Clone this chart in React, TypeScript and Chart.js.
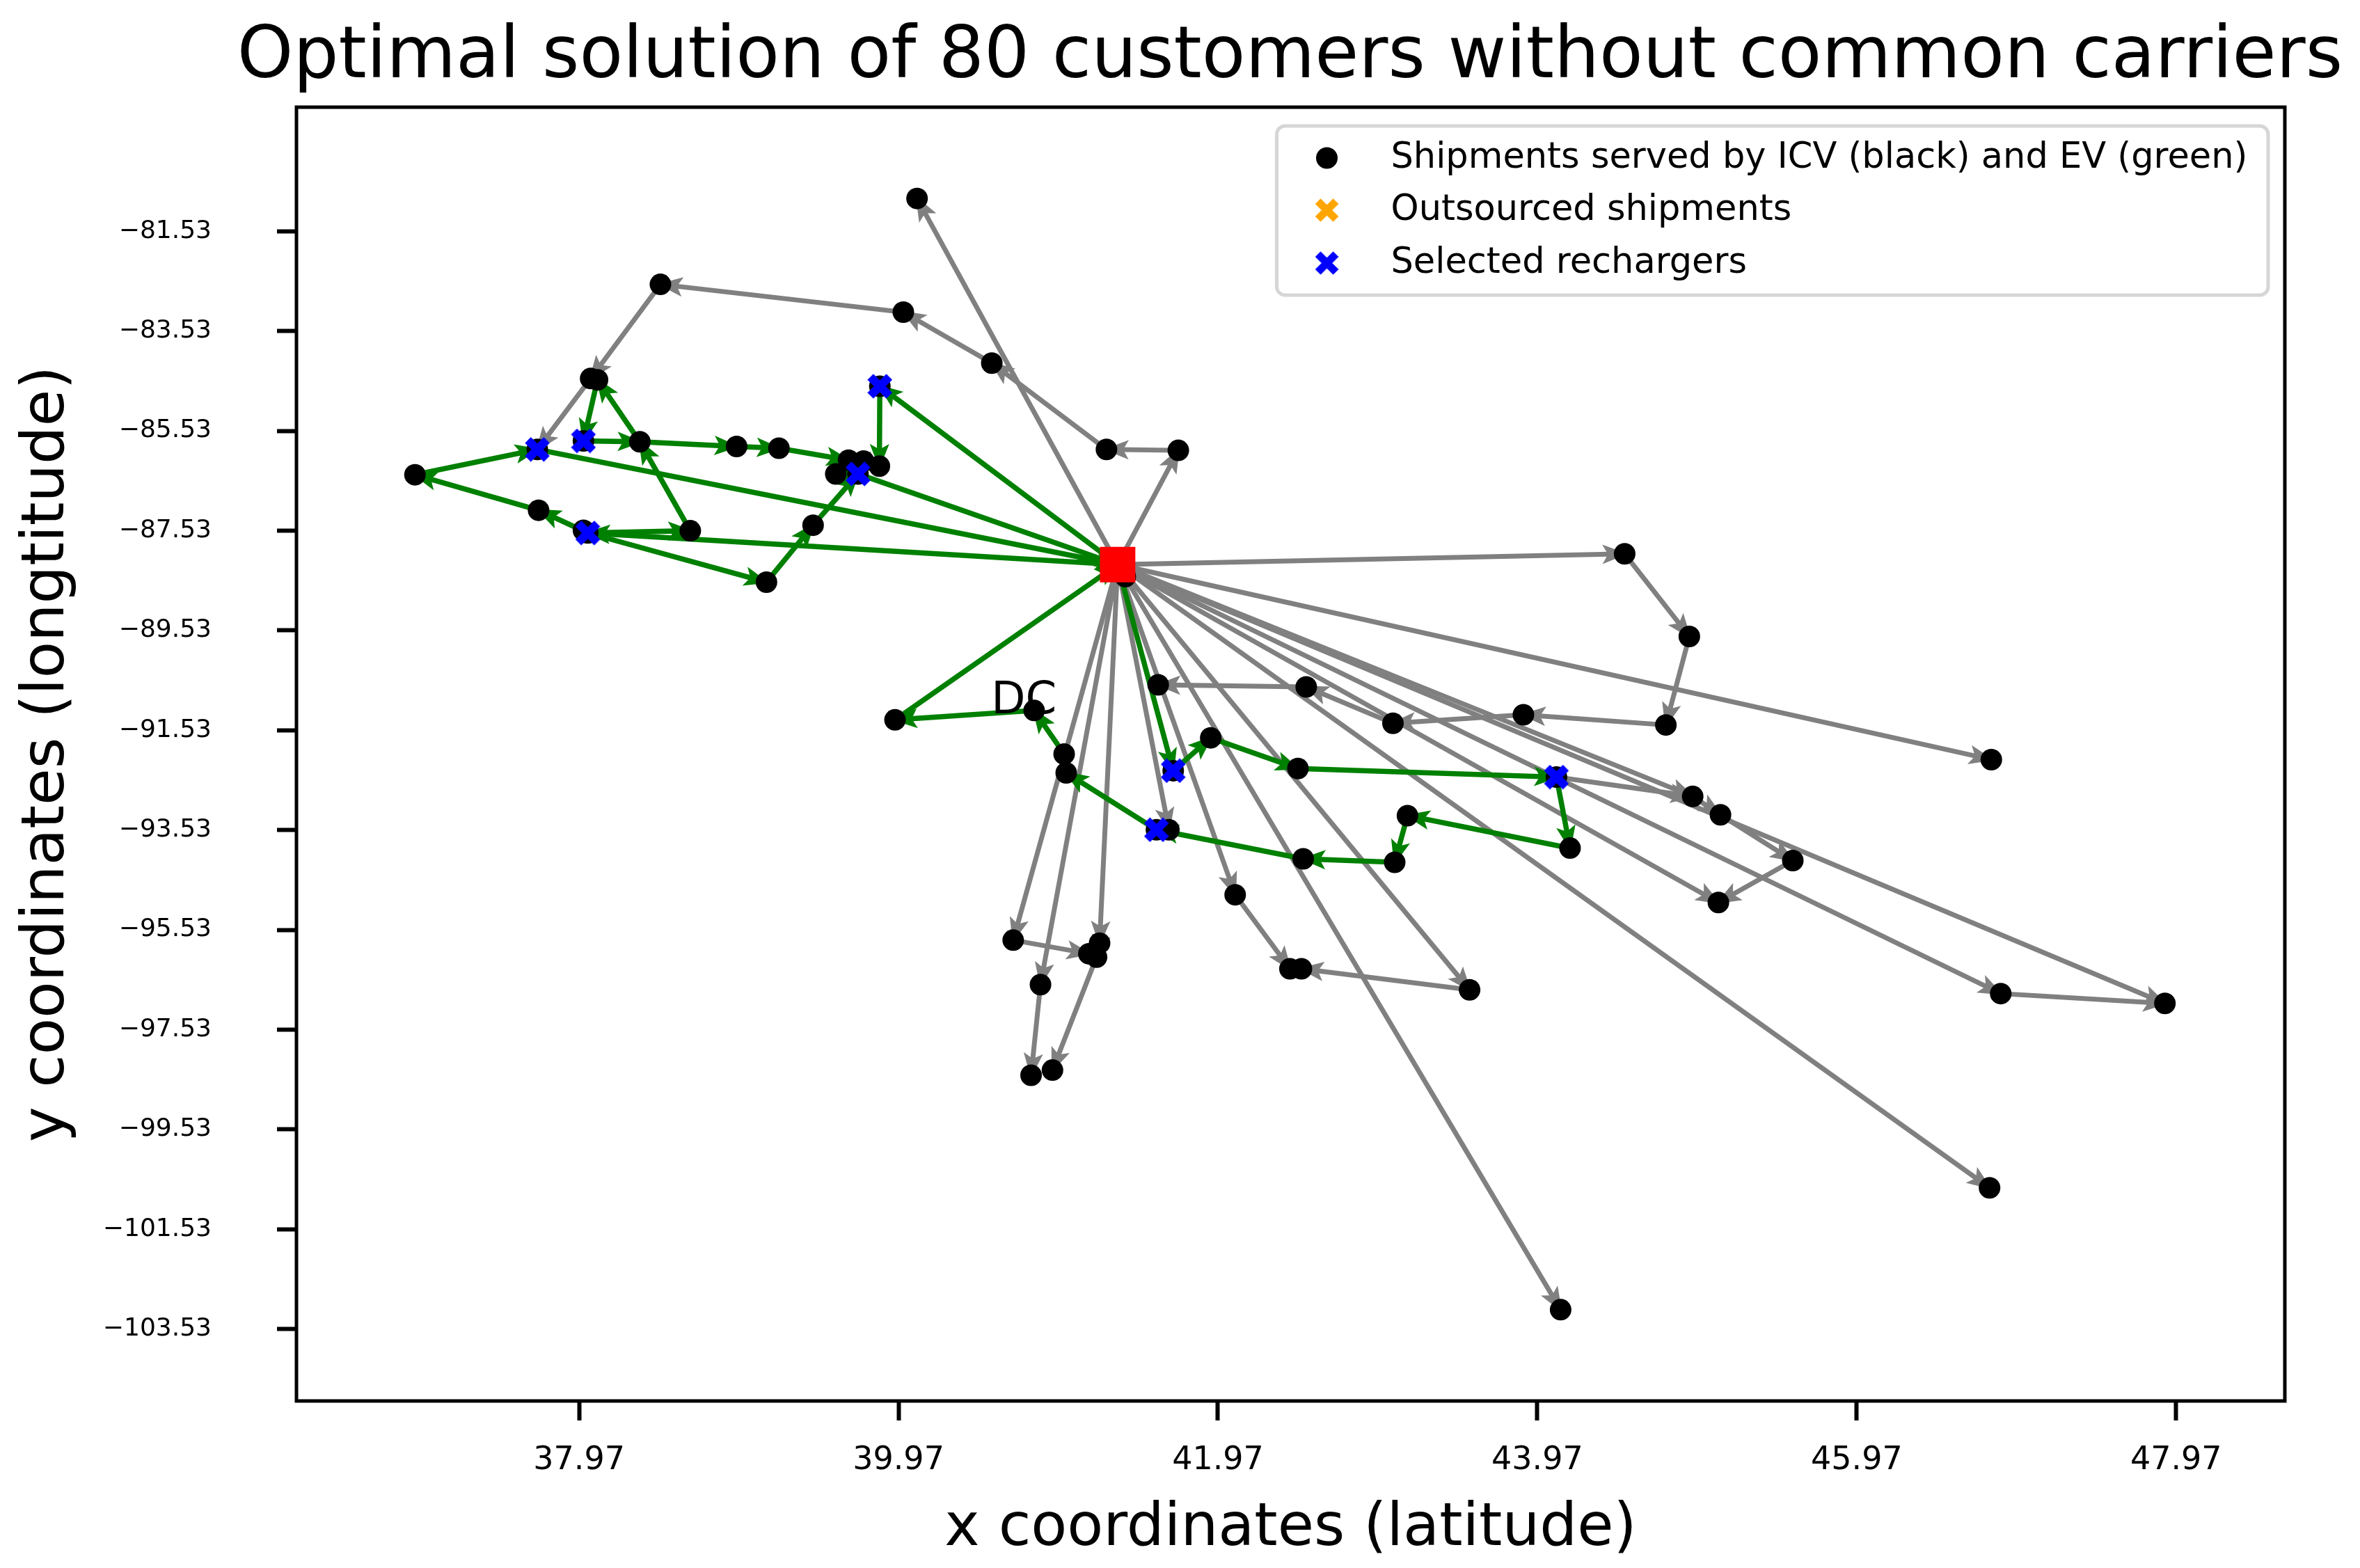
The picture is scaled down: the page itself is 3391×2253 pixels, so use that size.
import React, { useEffect, useRef } from 'react';
import { Chart, registerables } from 'chart.js';

Chart.register(...registerables);

// ---------- text ----------
const TITLE = 'Optimal solution of 80 customers without common carriers';
const X_LABEL = 'x coordinates (latitude)';
const Y_LABEL = 'y coordinates (longtitude)';
const LEGEND_LABELS = [
  'Shipments served by ICV (black) and EV (green)',
  'Outsourced shipments',
  'Selected rechargers',
];
const DC_LABEL = 'DC';
const DC_LABEL_X = [40.55];
const DC_LABEL_Y = [-91.19];

// ---------- axes ----------
const X_MIN = 36.2;
const X_MAX = 48.651;
const Y_MIN = -104.97;
const Y_MAX = -79.043;
const X_TICKS = [37.97, 39.97, 41.97, 43.97, 45.97, 47.97];
const Y_TICKS = [-81.53, -83.53, -85.53, -87.53, -89.53, -91.53, -93.53, -95.53, -97.53, -99.53, -101.53, -103.53];

// ---------- data ----------
const DEPOT_X = [41.342];
const DEPOT_Y = [-88.209];

const CUSTOMER_X = [
  40.086, 38.479, 40.0, 40.554, 41.272, 41.722, 38.042, 38.085, 38.35, 38.956,
  39.221, 39.657, 39.751, 39.85, 39.577, 36.942, 37.716, 37.997, 38.666, 39.435,
  39.143, 41.39, 44.517, 44.922, 44.775, 43.883, 43.066, 42.523, 41.596, 46.813,
  39.948, 40.819, 41.007, 41.02, 41.925, 42.471, 43.157, 44.175, 41.663, 42.504,
  43.077, 42.078, 40.688, 41.229, 41.162, 41.21, 40.859, 40.8, 40.934, 42.421,
  42.493, 43.546, 44.116, 44.943, 45.117, 45.57, 45.104, 46.872, 47.9, 46.802,
];
const CUSTOMER_Y = [
  -80.872, -82.594, -83.151, -84.172, -85.902, -85.92, -84.48, -84.506, -85.749, -85.842,
  -85.877, -86.117, -86.134, -86.237, -86.392, -86.409, -87.12, -87.523, -87.531, -87.42,
  -88.561, -88.449, -87.994, -89.649, -91.423, -91.218, -91.389, -90.661, -90.618, -92.117,
  -91.321, -91.133, -92.006, -92.382, -91.681, -92.297, -93.24, -93.891, -93.523, -94.106,
  -94.175, -94.826, -95.735, -95.795, -96.008, -96.077, -96.626, -98.444, -98.34, -96.308,
  -96.308, -96.73, -103.141, -92.855, -93.223, -94.14, -94.98, -96.806, -97.003, -100.698,
];

const RECHARGER_X = [39.853, 37.708, 37.997, 39.716, 38.024, 41.585, 44.09, 41.69];
const RECHARGER_Y = [-84.635, -85.902, -85.731, -86.392, -87.575, -93.523, -92.468, -92.34];

// routes: 'D' = depot, 'cN' = customer N, 'rN' = recharger N
const ICV_ROUTES: string[][] = [
  ['D', 'c5', 'c4', 'c3', 'c2', 'c1', 'c6', 'r1'],
  ['D', 'c0'],
  ['D', 'c22', 'c23', 'c24', 'c25', 'c26', 'c27', 'c28'],
  ['D', 'c29'],
  ['D', 'c53', 'c54', 'c55', 'c56'],
  ['r6', 'c53'],
  ['D', 'c56'],
  ['D', 'c57', 'c58'],
  ['D', 'c58'],
  ['D', 'c59'],
  ['D', 'c52'],
  ['D', 'c51', 'c50'],
  ['D', 'c41', 'c49'],
  ['D', 'c42', 'c44'],
  ['D', 'c43', 'c45', 'c48'],
  ['D', 'c46', 'c47'],
  ['D', 'c38'],
];

const EV_ROUTES: string[][] = [
  ['D', 'r0', 'c13', 'c12', 'c11'],
  ['r4', 'c18', 'c8', 'c7', 'r2', 'c8', 'c9', 'c10', 'c11'],
  ['D', 'r4', 'c16', 'c15', 'r1', 'D'],
  ['r4', 'c20', 'c19', 'r3', 'D'],
  ['c14', 'r3'],
  ['D', 'r7', 'c34', 'c35', 'r6', 'c37', 'c36', 'c40', 'c39', 'r5', 'c33', 'c32', 'c31', 'c30', 'D'],
];

// ---------- helpers ----------
function node(id: string) {
  if (id === 'D') return { x: DEPOT_X[0], y: DEPOT_Y[0] };
  const i = parseInt(id.slice(1), 10);
  if (id[0] === 'c') return { x: CUSTOMER_X[i], y: CUSTOMER_Y[i] };
  return { x: RECHARGER_X[i], y: RECHARGER_Y[i] };
}

function makeX(color: string, size: number, thick: number) {
  const c = document.createElement('canvas');
  c.width = size;
  c.height = size;
  const g = c.getContext('2d')!;
  g.strokeStyle = color;
  g.lineWidth = thick;
  g.lineCap = 'butt';
  const m = thick * 0.37;
  g.beginPath();
  g.moveTo(m, m);
  g.lineTo(size - m, size - m);
  g.moveTo(size - m, m);
  g.lineTo(m, size - m);
  g.stroke();
  return c;
}

const FONT = 'DejaVu Sans';
const GRAY = '#808080';
const GREEN = '#008000';

export default function App() {
  const ref = useRef<HTMLCanvasElement | null>(null);

  useEffect(() => {
    document.body.style.margin = '0';
    const canvas = ref.current!;
    const blueX = makeX('#0000ff', 36, 12);
    const orangeX = makeX('#ffa500', 34, 11);
    const legendBlueX = makeX('#0000ff', 34, 11);

    const routeDatasets: any[] = [];
    ICV_ROUTES.forEach((r) =>
      routeDatasets.push({
        data: r.map(node),
        showLine: true,
        borderColor: GRAY,
        backgroundColor: GRAY,
        borderWidth: 7,
        pointRadius: 0,
        order: 10,
        isRoute: true,
      })
    );
    EV_ROUTES.forEach((r) =>
      routeDatasets.push({
        data: r.map(node),
        showLine: true,
        borderColor: GREEN,
        backgroundColor: GREEN,
        borderWidth: 7.5,
        pointRadius: 0,
        order: 9,
        isRoute: true,
      })
    );

    const blackPts = CUSTOMER_X.map((x, i) => ({ x, y: CUSTOMER_Y[i] })).concat(
      RECHARGER_X.map((x, i) => ({ x, y: RECHARGER_Y[i] }))
    );

    const arrowPlugin = {
      id: 'arrowHeads',
      afterDatasetDraw(chart: any, args: any) {
        const ds = chart.data.datasets[args.index];
        if (!ds.isRoute) return;
        const pts = args.meta.data;
        const ctx = chart.ctx;
        const a = chart.chartArea;
        ctx.save();
        ctx.beginPath();
        ctx.rect(a.left, a.top, a.right - a.left, a.bottom - a.top);
        ctx.clip();
        ctx.fillStyle = ds.borderColor;
        for (let i = 1; i < pts.length; i++) {
          const p0 = pts[i - 1];
          const p1 = pts[i];
          const dx = p1.x - p0.x;
          const dy = p1.y - p0.y;
          const len = Math.hypot(dx, dy);
          if (len < 2) continue;
          const ux = dx / len;
          const uy = dy / len;
          const tipX = p1.x + ux * 4;
          const tipY = p1.y + uy * 4;
          const bx = tipX - ux * 36;
          const by = tipY - uy * 36;
          ctx.beginPath();
          ctx.moveTo(tipX, tipY);
          ctx.lineTo(bx - uy * 14, by + ux * 14);
          ctx.lineTo(bx + ux * 8, by + uy * 8);
          ctx.lineTo(bx + uy * 14, by - ux * 14);
          ctx.closePath();
          ctx.fill();
        }
        ctx.restore();
      },
    };

    const decorPlugin = {
      id: 'decor',
      afterDatasetsDraw(chart: any) {
        const ctx = chart.ctx;
        const a = chart.chartArea;
        const xs = chart.scales.x;
        const ys = chart.scales.y;
        // title (centred over the plot area, not squeezed)
        ctx.save();
        ctx.fillStyle = '#000';
        ctx.font = `102.5px "${FONT}"`;
        ctx.textAlign = 'center';
        ctx.textBaseline = 'alphabetic';
        ctx.fillText(TITLE, (a.left + a.right) / 2 - 1, a.top - 43);
        ctx.restore();
        // DC label
        ctx.save();
        ctx.fillStyle = '#000';
        ctx.font = `64px "${FONT}"`;
        ctx.textAlign = 'left';
        ctx.textBaseline = 'alphabetic';
        ctx.fillText(DC_LABEL, xs.getPixelForValue(DC_LABEL_X[0]), ys.getPixelForValue(DC_LABEL_Y[0]));
        ctx.restore();
        // frame
        ctx.save();
        ctx.strokeStyle = '#000';
        ctx.lineWidth = 5;
        ctx.strokeRect(a.left, a.top, a.right - a.left, a.bottom - a.top);
        ctx.restore();
        // legend
        ctx.save();
        const lx = a.left + (a.right - a.left) * 0.493;
        const ly = a.top + 27;
        const lw = a.right - 24 - lx;
        const lh = 243;
        const r = 12;
        ctx.globalAlpha = 0.8;
        ctx.fillStyle = '#ffffff';
        ctx.strokeStyle = '#cccccc';
        ctx.lineWidth = 5;
        ctx.beginPath();
        ctx.moveTo(lx + r, ly);
        ctx.arcTo(lx + lw, ly, lx + lw, ly + lh, r);
        ctx.arcTo(lx + lw, ly + lh, lx, ly + lh, r);
        ctx.arcTo(lx, ly + lh, lx, ly, r);
        ctx.arcTo(lx, ly, lx + lw, ly, r);
        ctx.closePath();
        ctx.fill();
        ctx.stroke();
        ctx.globalAlpha = 1;
        const mx = lx + 72;
        const tx = lx + 164;
        const rows = [ly + 46, ly + 121, ly + 197];
        ctx.fillStyle = '#000';
        ctx.beginPath();
        ctx.arc(mx, rows[0], 15.5, 0, Math.PI * 2);
        ctx.fill();
        ctx.drawImage(orangeX, mx - 17, rows[1] - 17);
        ctx.drawImage(legendBlueX, mx - 17, rows[2] - 17);
        ctx.font = `51px "${FONT}"`;
        ctx.textBaseline = 'alphabetic';
        ctx.textAlign = 'left';
        LEGEND_LABELS.forEach((t, i) => ctx.fillText(t, tx, rows[i] + 14));
        ctx.restore();
      },
    };

    const chart = new Chart(canvas, {
      type: 'scatter',
      data: {
        datasets: [
          ...routeDatasets,
          {
            label: LEGEND_LABELS[0],
            data: blackPts,
            pointRadius: 15.5,
            pointStyle: 'circle',
            backgroundColor: '#000',
            borderColor: '#000',
            borderWidth: 0,
            order: 3,
          },
          {
            label: LEGEND_LABELS[2],
            data: RECHARGER_X.map((x, i) => ({ x, y: RECHARGER_Y[i] })),
            pointRadius: 18,
            pointStyle: blueX,
            order: 2,
          },
          {
            label: 'DC',
            data: [{ x: DEPOT_X[0], y: DEPOT_Y[0] }],
            pointRadius: 36,
            pointStyle: 'rect',
            backgroundColor: '#ff0000',
            borderColor: '#ff0000',
            borderWidth: 0,
            order: 1,
          },
        ],
      },
      options: {
        animation: false,
        responsive: false,
        devicePixelRatio: 1,
        events: [],
        layout: { padding: { left: 0, right: 108, top: 154, bottom: 0 } },
        plugins: {
          legend: { display: false },
          tooltip: { enabled: false },
          title: { display: false },
        },
        scales: {
          x: {
            type: 'linear',
            min: X_MIN,
            max: X_MAX,
            afterBuildTicks: (s: any) => {
              s.ticks = X_TICKS.map((v) => ({ value: v }));
            },
            afterFit: (s: any) => {
              s.height = 240;
            },
            ticks: {
              autoSkip: false,
              maxRotation: 0,
              color: '#000',
              padding: 30,
              font: { family: FONT, size: 46 },
              callback: (v: any) => Number(v).toFixed(2),
            },
            grid: {
              drawOnChartArea: false,
              drawTicks: true,
              tickLength: 28,
              tickWidth: 6,
              tickColor: '#000',
            },
            border: { display: false },
            title: {
              display: true,
              text: X_LABEL,
              color: '#000',
              font: { family: FONT, size: 85, weight: 'normal', lineHeight: 1.2 },
              padding: { top: 0, bottom: 4 },
            },
          },
          y: {
            type: 'linear',
            min: Y_MIN,
            max: Y_MAX,
            afterBuildTicks: (s: any) => {
              s.ticks = Y_TICKS.map((v) => ({ value: v }));
            },
            afterFit: (s: any) => {
              s.width = 426;
            },
            ticks: {
              autoSkip: false,
              color: '#000',
              padding: 94,
              font: { family: FONT, size: 36 },
              callback: (v: any) => (Number(v) < 0 ? '\u2212' : '') + Math.abs(Number(v)).toFixed(2),
            },
            grid: {
              drawOnChartArea: false,
              drawTicks: true,
              tickLength: 28,
              tickWidth: 6,
              tickColor: '#000',
            },
            border: { display: false },
            title: {
              display: true,
              text: Y_LABEL,
              color: '#000',
              font: { family: FONT, size: 86, weight: 'normal', lineHeight: 1.2 },
              padding: { top: 17, bottom: 0 },
            },
          },
        },
      },
      plugins: [arrowPlugin, decorPlugin],
    } as any);

    return () => chart.destroy();
  }, []);

  return (
    <div style={{ position: 'absolute', left: 0, top: 0, width: 3391, height: 2253, background: '#fff' }}>
      <canvas ref={ref} width={3391} height={2253} />
    </div>
  );
}
